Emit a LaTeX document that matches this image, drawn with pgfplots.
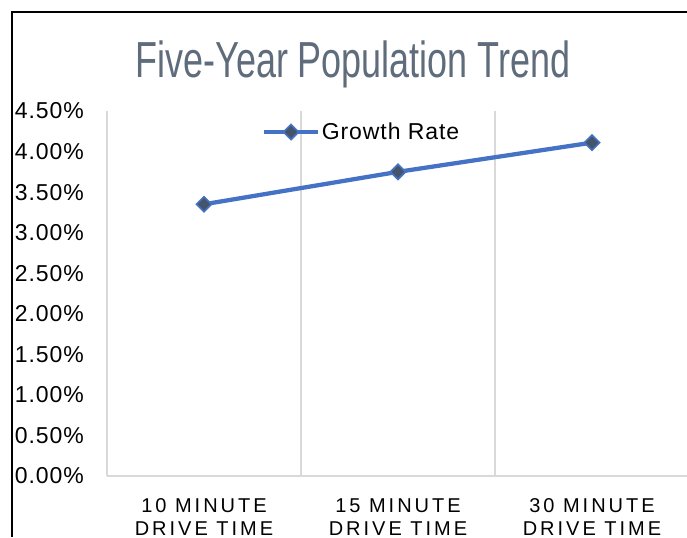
\documentclass[border=0pt]{standalone}
\usepackage{fontspec}
\usepackage{pgfplots}
\pgfplotsset{compat=1.18}
\setmainfont{Liberation Sans}
\newfontfamily\titlefont[FakeStretch=0.71]{Liberation Sans}
\newfontfamily\catfont[LetterSpace=15]{Liberation Sans}
\newfontfamily\tickfont[LetterSpace=4]{Liberation Sans}
\definecolor{lineblue}{RGB}{68,114,196}
\definecolor{markfill}{RGB}{68,84,106}
\definecolor{gridgray}{RGB}{217,217,217}
\definecolor{titlegray}{RGB}{94,108,124}
\begin{document}
\begin{tikzpicture}[x=0.75pt,y=0.75pt]
\path[use as bounding box] (0,0) rectangle (687,537);
\draw[black, line width=1.5pt] (12,0) -- (12,525) -- (700,525);
\node[anchor=base, font=\titlefont\fontsize{38}{42}\selectfont, text=titlegray, inner sep=0pt] at (353,459) {Five-Year Population Trend};
\begin{axis}[
  at={(80.25pt,45.75pt)}, anchor=south west,
  width=436.5pt, height=273.75pt, scale only axis,
  xmin=0, xmax=3, ymin=0, ymax=4.5,
  xtick={0.5,1.5,2.5},
  xticklabels={{10 MINUTE\\DRIVE TIME},{15 MINUTE\\DRIVE TIME},{30 MINUTE\\DRIVE TIME}},
  ytick={0,0.5,1,1.5,2,2.5,3,3.5,4,4.5},
  yticklabel={\pgfmathprintnumber[fixed,fixed zerofill,precision=2,assume math mode=true]{\tick}\%},
  major tick length=0pt,
  minor xtick={1,2,3}, xminorgrids, minor tick length=0pt,
  minor grid style={gridgray, line width=1.1pt},
  axis x line=bottom, axis y line=left,
  axis line style={-, gridgray, line width=1.1pt},
  yticklabel style={anchor=east, inner sep=0pt, xshift=-17.25pt, font=\tickfont\fontsize{17.25}{20}\selectfont},
  xticklabel style={anchor=north, inner sep=0pt, yshift=-16.5pt, align=center, font=\catfont\fontsize{15}{17.5}\selectfont},
  legend style={at={(axis cs:0.799,4.241)}, anchor=west, draw=none, fill=none, inner sep=0pt,
    nodes={inner sep=1.5pt}, font=\tickfont\fontsize{17.25}{20}\selectfont},
  legend image code/.code={\draw[mark repeat=2,mark phase=2,#1] plot coordinates {(0pt,0pt)(20pt,0pt)(40pt,0pt)};},
  legend cell align=left,
]
\addplot[lineblue, line width=3.2pt, mark=square*, mark size=4pt,
  mark options={rotate=45, fill=markfill, draw=lineblue, line width=1.2pt}]
  coordinates {(0.5,3.35) (1.5,3.75) (2.5,4.11)};
\addlegendentry{Growth Rate}
\end{axis}
\end{tikzpicture}
\end{document}
